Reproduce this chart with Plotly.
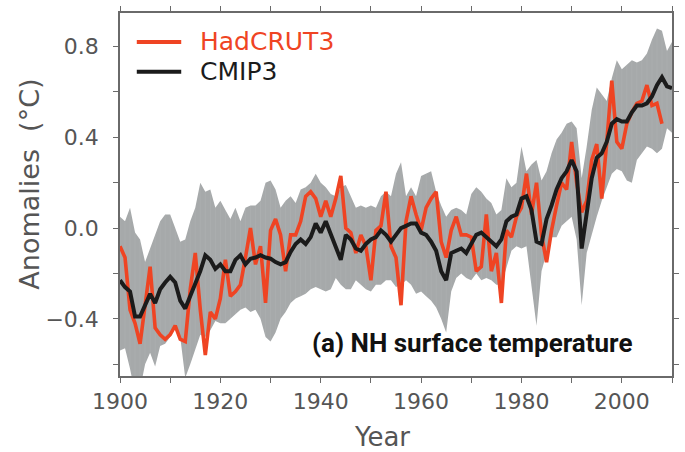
import plotly.graph_objects as go

years = list(range(1900, 2011))
had_years = list(range(1900, 2009))

hadcrut3 = [
    -0.08, -0.13, -0.36, -0.42, -0.51, -0.33, -0.17, -0.44, -0.47, -0.49,
    -0.47, -0.43, -0.49, -0.50, -0.27, -0.11, -0.36, -0.56, -0.37, -0.40,
    -0.31, -0.14, -0.30, -0.28, -0.25, -0.13, 0.00, -0.16, -0.08, -0.33,
    -0.01, 0.04, -0.03, -0.19, -0.03, -0.03, 0.03, 0.14, 0.16, 0.13,
    0.05, 0.12, 0.05, 0.13, 0.23, 0.00, -0.02, -0.11, -0.03, -0.08,
    -0.23, -0.01, 0.01, 0.16, -0.08, -0.13, -0.34, 0.03, 0.14, 0.06,
    -0.01, 0.09, 0.13, 0.16, -0.06, -0.13, -0.01, 0.05, -0.03, -0.03,
    -0.04, -0.19, -0.17, 0.06, -0.19, -0.11, -0.33, -0.01, -0.04, 0.05,
    0.09, 0.24, 0.06, 0.20, -0.03, -0.15, -0.01, 0.10, 0.20, 0.17,
    0.38, 0.20, 0.07, 0.12, 0.30, 0.37, 0.13, 0.38, 0.65, 0.38,
    0.35, 0.46, 0.51, 0.55, 0.56, 0.63, 0.54, 0.55, 0.46,
]

cmip3 = [
    -0.23, -0.26, -0.28, -0.39, -0.39, -0.34, -0.29, -0.33, -0.27, -0.24,
    -0.215, -0.24, -0.32, -0.355, -0.30, -0.25, -0.19, -0.12, -0.14, -0.18,
    -0.16, -0.19, -0.19, -0.14, -0.12, -0.16, -0.135, -0.13, -0.12, -0.13,
    -0.135, -0.15, -0.16, -0.15, -0.105, -0.07, -0.05, -0.07, -0.04, 0.02,
    -0.02, 0.03, -0.03, -0.09, -0.14, -0.03, -0.05, -0.09, -0.10, -0.07,
    -0.05, -0.04, -0.01, -0.03, -0.06, -0.03, 0.00, 0.01, 0.02, 0.02,
    -0.02, -0.03, -0.06, -0.10, -0.19, -0.23, -0.11, -0.10, -0.09, -0.11,
    -0.07, -0.03, -0.02, -0.04, -0.06, -0.08, -0.05, 0.03, 0.05, 0.06,
    0.13, 0.14, 0.08, -0.06, -0.07, 0.04, 0.10, 0.17, 0.22, 0.25,
    0.30, 0.25, -0.09, 0.06, 0.22, 0.31, 0.33, 0.38, 0.46, 0.48,
    0.47, 0.47, 0.51, 0.54, 0.54, 0.55, 0.58, 0.63, 0.665, 0.625,
    0.617,
]

cmip3_upper = [
    0.05, 0.03, 0.09, -0.02, -0.05, -0.15, -0.09, -0.03, 0.03, 0.06,
    0.06, 0.00, -0.06, -0.05, 0.03, 0.09, 0.20, 0.16, 0.17, 0.09,
    0.12, 0.08, 0.04, 0.09, 0.03, 0.09, 0.10, 0.10, 0.12, 0.20,
    0.21, 0.17, 0.09, 0.12, 0.14, 0.11, 0.17, 0.18, 0.20, 0.24,
    0.20, 0.18, 0.15, 0.14, 0.18, 0.19, 0.14, 0.09, 0.10, 0.09,
    0.10, 0.09, 0.14, 0.16, 0.14, 0.24, 0.29, 0.14, 0.18, 0.14,
    0.23, 0.24, 0.25, 0.16, 0.10, 0.05, 0.08, 0.09, 0.08, 0.06,
    0.15, 0.18, 0.16, 0.13, 0.11, 0.06, 0.08, 0.22, 0.18, 0.20,
    0.36, 0.25, 0.28, 0.30, 0.21, 0.25, 0.33, 0.39, 0.42, 0.46,
    0.47, 0.44, 0.22, 0.36, 0.52, 0.62, 0.59, 0.56, 0.66, 0.74,
    0.70, 0.72, 0.74, 0.73, 0.74, 0.77, 0.83, 0.88, 0.87, 0.78,
    0.82,
]

cmip3_lower = [
    -0.54, -0.53, -0.62, -0.73, -0.71, -0.60, -0.55, -0.61, -0.52, -0.51,
    -0.48, -0.44, -0.48, -0.66, -0.60, -0.54, -0.47, -0.48, -0.45, -0.41,
    -0.42, -0.42, -0.40, -0.38, -0.36, -0.35, -0.37, -0.36, -0.40, -0.48,
    -0.50, -0.46, -0.40, -0.37, -0.33, -0.31, -0.30, -0.29, -0.27, -0.26,
    -0.27, -0.28, -0.27, -0.22, -0.25, -0.27, -0.27, -0.23, -0.25, -0.27,
    -0.28, -0.25, -0.25, -0.23, -0.23, -0.26, -0.25, -0.23, -0.25, -0.29,
    -0.28, -0.30, -0.32, -0.35, -0.40, -0.46, -0.28, -0.22, -0.20, -0.22,
    -0.23, -0.20, -0.23, -0.22, -0.23, -0.25, -0.25, -0.17, -0.10, -0.08,
    -0.09, -0.08, -0.25, -0.43, -0.19, -0.11, -0.04, -0.04, 0.01, 0.03,
    0.05, -0.05, -0.34, -0.11, -0.03, 0.05, 0.12, 0.18, 0.24, 0.26,
    0.25, 0.21, 0.20, 0.30, 0.33, 0.36, 0.35, 0.33, 0.35, 0.44,
    0.42,
]

y_tickvals = [-0.4, 0.0, 0.4, 0.8]
y_ticktext = ["\u22120.4", "0.0", "0.4", "0.8"]
x_tickvals = [1900, 1920, 1940, 1960, 1980, 2000]

RED = "#ef4423"
BLACK = "#1b1b1b"
BAND = "#a6a9aa"
AXC = "#6a6a6a"
TXT = "#555555"

fig = go.Figure()

# spread band
fig.add_trace(go.Scatter(
    x=years + years[::-1], y=cmip3_upper + cmip3_lower[::-1],
    fill="toself", fillcolor=BAND, line=dict(width=0),
    mode="lines", hoverinfo="skip", showlegend=False))

# faint yearly seams inside the band
seam_x, seam_y = [], []
for yr, lo, hi in zip(years, cmip3_lower, cmip3_upper):
    seam_x += [yr, yr, None]
    seam_y += [lo, hi, None]
fig.add_trace(go.Scatter(
    x=seam_x, y=seam_y, mode="lines",
    line=dict(color="rgba(255,255,255,0.08)", width=0.8),
    hoverinfo="skip", showlegend=False))

fig.add_trace(go.Scatter(
    x=had_years, y=hadcrut3, mode="lines", name="HadCRUT3",
    line=dict(color=RED, width=3.6), showlegend=False))
fig.add_trace(go.Scatter(
    x=years, y=cmip3, mode="lines", name="CMIP3",
    line=dict(color=BLACK, width=4), showlegend=False))

L, R, T, B = 120, 6, 12, 76
W, H = 685, 452
pw, ph = W - L - R, H - T - B

def px(xp):
    return (xp - L) / pw

def py(yp):
    return (H - B - yp) / ph

# manual legend
for yp, col, label in [(41, RED, "HadCRUT3"), (71, BLACK, "CMIP3")]:
    fig.add_shape(type="line", xref="paper", yref="paper",
                  x0=px(137), x1=px(182), y0=py(yp), y1=py(yp),
                  line=dict(color=col, width=4))
    fig.add_annotation(xref="paper", yref="paper", x=px(199), y=py(yp),
                       text=label, showarrow=False, xanchor="left",
                       yanchor="middle",
                       font=dict(family="DejaVu Sans", size=25, color=col))

fig.add_annotation(xref="paper", yref="paper", x=px(476), y=py(343),
                   text="(a) NH surface temperature", showarrow=False,
                   xanchor="center", yanchor="middle",
                   font=dict(family="Roboto", size=26, color="#111111",
                             weight=700))

fig.add_annotation(xref="paper", yref="paper", x=px(385), y=py(437),
                   text="Year", showarrow=False, xanchor="center",
                   yanchor="middle",
                   font=dict(family="DejaVu Sans", size=26, color=TXT))
fig.add_annotation(xref="paper", yref="paper", x=px(28), y=py(184),
                   text="Anomalies&nbsp;&nbsp;(\u00b0C)", showarrow=False,
                   textangle=-90, xanchor="center", yanchor="middle",
                   font=dict(family="DejaVu Sans", size=27, color=TXT))

fig.update_xaxes(
    range=[1900, 2010], tickvals=x_tickvals, ticks="outside", ticklen=5,
    tickwidth=1.3, tickcolor=AXC, showline=True, linecolor=AXC, linewidth=1.5,
    mirror="ticks", showgrid=False, zeroline=False,
    minor=dict(dtick=10, tick0=1900, ticks="outside", ticklen=5,
               tickwidth=1.3, tickcolor=AXC, showgrid=False),
    tickfont=dict(family="DejaVu Sans", size=22, color=TXT))
fig.update_yaxes(
    range=[-0.652, 0.948], tickvals=y_tickvals, ticktext=y_ticktext,
    ticks="outside", ticklen=5, tickwidth=1.3, tickcolor=AXC,
    showline=True, linecolor=AXC, linewidth=1.5, mirror="ticks",
    showgrid=False, zeroline=False, ticklabelstandoff=10,
    minor=dict(dtick=0.2, tick0=0, ticks="outside", ticklen=5,
               tickwidth=1.3, tickcolor=AXC, showgrid=False),
    tickfont=dict(family="DejaVu Sans", size=22, color=TXT))

fig.update_layout(
    width=W, height=H, margin=dict(l=L, r=R, t=T, b=B),
    paper_bgcolor="white", plot_bgcolor="white", showlegend=False)

fig.write_html("out.html")
